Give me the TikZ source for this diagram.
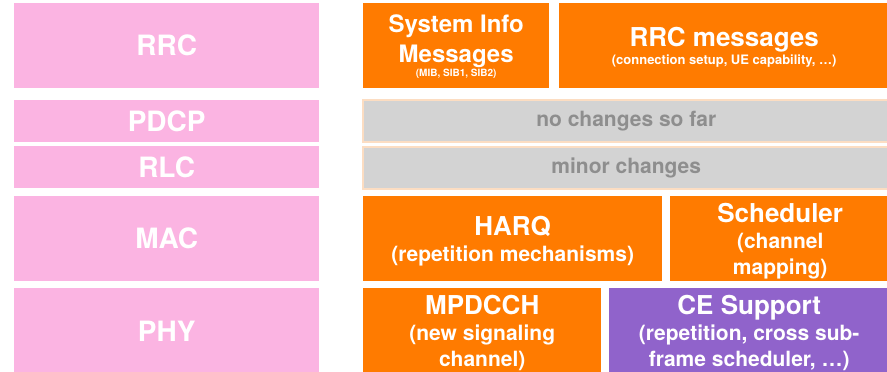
\documentclass[tikz,border=0pt]{standalone}
\usepackage{fontspec}
\setmainfont{TeX Gyre Heros}
\usetikzlibrary{positioning}

\definecolor{layerpink}{HTML}{FBB4E2}
\definecolor{blockorange}{HTML}{FF7B00}
\definecolor{cepurple}{HTML}{9063CB}
\definecolor{keepgray}{HTML}{D3D3D3}
\definecolor{keeptext}{HTML}{8E8E8E}
\definecolor{keepborder}{HTML}{FCDDC2}

\newcommand{\subfont}{\fontsize{21}{24}\selectfont}

\begin{document}
\begin{tikzpicture}[
  x=1pt, y=-1pt,
  layer/.style={rectangle, fill=layerpink, text=white, inner sep=0pt, anchor=north west, minimum width=305pt, font=\bfseries\fontsize{28}{30}\selectfont},
  block/.style={rectangle, fill=blockorange, text=white, inner sep=0pt, text depth=0pt, anchor=north west, align=center, minimum height=85pt, font=\bfseries\fontsize{26}{26}\selectfont},
  keep/.style={rectangle, fill=keepgray, draw=keepborder, line width=1.5pt, text=keeptext, inner sep=0pt, anchor=north west, minimum width=527pt, minimum height=42pt, font=\bfseries\fontsize{21}{24}\selectfont}
]
  \useasboundingbox[fill=white] (0,0) rectangle (887,372);

  % Protokollschichten
  \node[layer, minimum height=85pt] (rrc) at (14,3) {RRC};
  \node[layer, minimum height=42pt] (pdcp) at (14,100) {PDCP};
  \node[layer, minimum height=42pt] (rlc) at (14,146) {RLC};
  \node[layer, minimum height=85pt] (mac) at (14,196) {MAC};
  \node[layer, minimum height=86pt] (phy) at (14,288) {PHY};

  % RRC
  \node[block, minimum width=186pt, font=\bfseries\fontsize{24}{25}\selectfont] (sysinfo) at (363,3)
    {System Info\\[5pt]Messages\\[-11pt]\fontsize{10}{11}\selectfont(MIB, SIB1, SIB2)};
  \node[block, minimum width=330pt] (rrcmsg) at (559,3)
    {RRC messages\\[-8pt]\fontsize{13}{15}\selectfont(connection setup, UE capability, \dots)};

  % PDCP / RLC
  \node[keep] (pdcpkeep) at (362,99) {no changes so far};
  \node[keep] (rlckeep) at (362,146) {minor changes};

  % MAC
  \node[block, minimum width=299pt] (harq) at (363,196)
    {HARQ\\\subfont(repetition mechanisms)};
  \node[block, minimum width=220pt] (sched) at (670,196)
    {Scheduler\\\subfont(channel\\\subfont mapping)};

  % PHY
  \node[block, minimum width=238pt, minimum height=86pt] (mpdcch) at (363,288)
    {MPDCCH\\\subfont(new signaling\\\subfont channel)};
  \node[block, fill=cepurple, minimum width=280pt, minimum height=86pt] (ce) at (609,288)
    {CE Support\\\subfont(repetition, cross sub-\\\subfont frame scheduler, \dots)};
\end{tikzpicture}
\end{document}
